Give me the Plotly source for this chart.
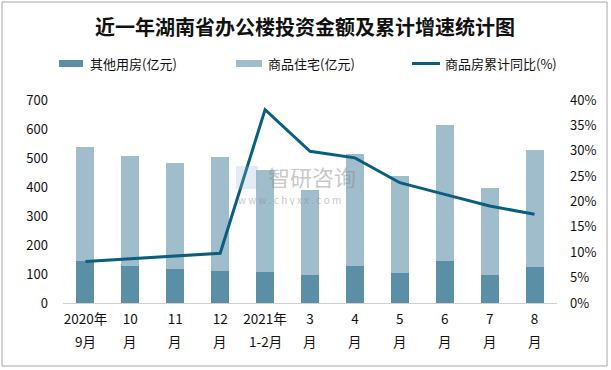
import plotly.graph_objects as go

categories = ["2020年9月", "10月", "11月", "12月", "2021年1-2月",
              "3月", "4月", "5月", "6月", "7月", "8月"]
tick_line1 = ["2020年", "10", "11", "12", "2021年", "3", "4", "5", "6", "7", "8"]
tick_line2 = ["9月", "月", "月", "月", "1-2月", "月", "月", "月", "月", "月", "月"]
other_use = [145, 128, 117, 110, 107, 97, 128, 103, 145, 97, 124]          # 其他用房(亿元)
residential = [394, 379, 366, 393, 352, 293, 386, 335, 469, 300, 404]      # 商品住宅(亿元)
yoy_growth = [8.2, 8.7, 9.3, 9.8, 38.1, 29.9, 28.6, 23.7, 21.4, 19.1, 17.5]  # 商品房累计同比(%)

left_ticks = [0, 100, 200, 300, 400, 500, 600, 700]
right_ticks = [0, 0.05, 0.10, 0.15, 0.20, 0.25, 0.30, 0.35, 0.40]

DARK = "#5B8FA5"
LIGHT = "#A0BDCB"
LINE = "#0A5F80"
FONT = "Noto Sans CJK SC"

W, H = 611, 370
L, R, T, B = 63, 557, 100, 303


def px(x):
    return (x - L) / (R - L)


def py(y):
    return (B - y) / (B - T)


fig = go.Figure()
fig.add_trace(go.Bar(x=categories, y=other_use, name="其他用房(亿元)",
                     marker=dict(color=DARK, line=dict(width=0))))
fig.add_trace(go.Bar(x=categories, y=residential, name="商品住宅(亿元)",
                     marker=dict(color=LIGHT, line=dict(width=0))))
fig.add_trace(go.Scatter(x=categories, y=[v / 100 for v in yoy_growth], name="商品房累计同比(%)",
                         mode="lines", line=dict(color=LINE, width=3), yaxis="y2"))

shapes = [
    dict(type="rect", xref="paper", yref="paper", x0=px(2), x1=px(607), y0=py(366), y1=py(2),
         line=dict(color="#A8A8A8", width=1), fillcolor="rgba(0,0,0,0)", layer="below"),
    dict(type="rect", xref="paper", yref="paper", x0=px(59), x1=px(83), y0=py(67), y1=py(60),
         line=dict(width=0), fillcolor=DARK),
    dict(type="rect", xref="paper", yref="paper", x0=px(236), x1=px(262), y0=py(67), y1=py(60),
         line=dict(width=0), fillcolor=LIGHT),
    dict(type="line", xref="paper", yref="paper", x0=px(412), x1=px(440), y0=py(63.5), y1=py(63.5),
         line=dict(width=3, color=LINE)),
    # watermark logo block
    dict(type="rect", xref="paper", yref="paper", x0=px(236), x1=px(258), y0=py(189), y1=py(166),
         line=dict(width=0), fillcolor="rgba(150,175,215,0.25)", layer="above"),
]

legend_items = [(88, "其他用房(亿元)"), (266, "商品住宅(亿元)"), (443, "商品房累计同比(%)")]
annotations = [dict(xref="paper", yref="paper", x=px(xx), y=py(63.5), text=t, showarrow=False,
                    xanchor="left", yanchor="middle", font=dict(family=FONT, size=13, color="#111"))
               for xx, t in legend_items]
annotations += [
    dict(xref="paper", yref="paper", x=px(305), y=py(26), text="<b>近一年湖南省办公楼投资金额及累计增速统计图</b>",
         showarrow=False, xanchor="center", yanchor="middle",
         font=dict(family=FONT, size=20, color="#111")),
    dict(xref="paper", yref="paper", x=px(266), y=py(176), text="智研咨询", showarrow=False,
         xanchor="left", yanchor="middle", opacity=0.45, height=24,
         font=dict(family=FONT, size=22, color="#888")),
    dict(xref="paper", yref="paper", x=px(236), y=py(199), text="w w w . c h y x x . c o m",
         showarrow=False, xanchor="left", yanchor="middle", opacity=0.45, height=11,
         font=dict(family=FONT, size=10, color="#888")),
]
# second line of the category labels
annotations += [dict(xref="x", yref="paper", x=c, y=py(341), text=t2, showarrow=False,
                     xanchor="center", yanchor="middle", height=16,
                     font=dict(family=FONT, size=13.5, color="#111"))
                for c, t2 in zip(categories, tick_line2)]

fig.update_layout(
    width=W, height=H,
    margin=dict(l=L, r=W - R, t=T, b=H - B, autoexpand=False),
    paper_bgcolor="white", plot_bgcolor="white",
    barmode="stack", bargap=0.6,
    showlegend=False,
    font=dict(family=FONT, size=13, color="#111"),
    xaxis=dict(type="category", range=[-0.5, len(categories) - 0.5], showgrid=False, showline=True,
               linecolor="#D0D0D0", linewidth=1, ticks="",
               tickvals=categories, ticktext=tick_line1,
               tickfont=dict(family=FONT, size=13.5, color="#111"), automargin=False,
               ticklabelstandoff=4),
    yaxis=dict(range=[0, 700], tickvals=left_ticks, showgrid=False, zeroline=False, showline=False,
               ticks="", tickfont=dict(family=FONT, size=13, color="#111"), automargin=False,
               ticklabelstandoff=14),
    yaxis2=dict(range=[0, 0.4], tickvals=right_ticks, tickformat=".0%", overlaying="y", side="right",
                showgrid=False, zeroline=False, showline=False, ticks="",
                tickfont=dict(family=FONT, size=13, color="#111"), automargin=False,
                ticklabelstandoff=12),
    shapes=shapes,
    annotations=annotations,
)

fig.write_html("out.html", config={"displayModeBar": False},
               post_script="document.body.style.margin='0';document.body.style.overflow='hidden';")
